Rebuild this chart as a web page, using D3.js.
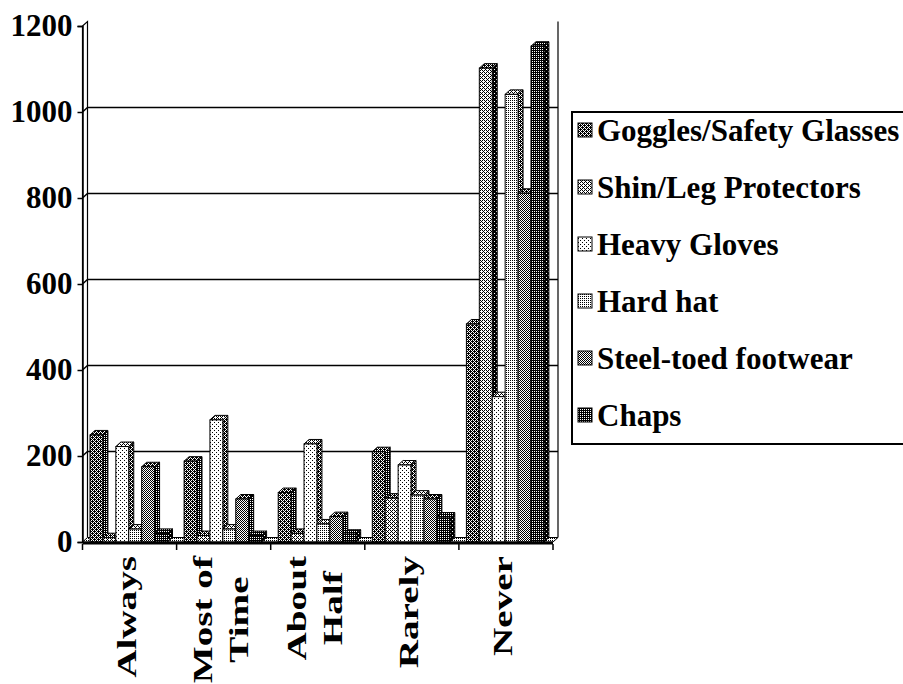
<!DOCTYPE html>
<html>
<head>
<meta charset="utf-8">
<script src="https://cdn.jsdelivr.net/npm/d3@7"></script>
<style>
  body { margin: 0; background: #fff; }
  text { font-family: "Liberation Serif", "Times New Roman", serif; font-weight: bold; fill: #000; }
</style>
</head>
<body>
<svg id="chart" width="903" height="684"></svg>
<script>
// ---- data -------------------------------------------------------------
const categories = ["Always", "Most of Time", "About Half", "Rarely", "Never"];
const categoryLines = [["Always"], ["Most of", "Time"], ["About", "Half"], ["Rarely"], ["Never"]];
const seriesNames = ["Goggles/Safety Glasses", "Shin/Leg Protectors", "Heavy Gloves",
                     "Hard hat", "Steel-toed footwear", "Chaps"];
const goggles     = [249, 188, 115, 210, 507];
const shinLeg     = [10, 15, 20, 102, 1102];
const heavyGloves = [222, 284, 228, 179, 338];
const hardHat     = [30, 30, 42, 109, 1041];
const steelToed   = [175, 100, 59, 100, 811];
const chaps       = [20, 15, 18, 58, 1153];
const yTicks = [0, 200, 400, 600, 800, 1000, 1200];

const seriesValues = [goggles, shinLeg, heavyGloves, hardHat, steelToed, chaps];

// ---- layout -----------------------------------------------------------
const svg = d3.select("#chart");
const DX = 5, DY = 4.5;           // depth offset of the 3-D walls and bars
const x0 = 82.5, x1 = 553;

const y = d3.scaleLinear().domain([0, 1200]).range([542, 26]);
const xCat = d3.scaleBand().domain(categories).range([x0, x1]).padding(0);
const xSer = d3.scaleBand().domain(seriesNames).range([7.5, 85]).padding(0);

// ---- dither fills -----------------------------------------------------
const tiles = {
  p12: ["1000", "0000", "0010", "0000"],
  p25: ["1010", "0000", "1010", "0000"],
  p37: ["1010", "0100", "1010", "0001"],
  p50: ["1010", "0101", "1010", "0101"],
  p62: ["1010", "1101", "1010", "0111"],
  p75: ["1111", "0101", "1111", "0101"],
  p87: ["1111", "1101", "1111", "0111"]
};
const defs = svg.append("defs");
Object.entries(tiles).forEach(([id, rows]) => {
  const p = defs.append("pattern").attr("id", id)
    .attr("patternUnits", "userSpaceOnUse").attr("width", 4).attr("height", 4);
  p.append("rect").attr("width", 4).attr("height", 4).attr("fill", "#fff");
  rows.forEach((r, j) => r.split("").forEach((c, i) => {
    if (c === "1") p.append("rect").attr("x", i).attr("y", j)
      .attr("width", 1).attr("height", 1).attr("fill", "#000");
  }));
});
const faceFill = [
  { front: "p62", top: "p62", side: "p75" },
  { front: "p37", top: "p62", side: "p87" },
  { front: "p12", top: "p37", side: "p62" },
  { front: "p25", top: "p37", side: "p62" },
  { front: "p50", top: "p62", side: "p75" },
  { front: "p75", top: "p75", side: "p87" }
];

// ---- walls and floor --------------------------------------------------
const y0 = y(0), yTop = y(1200);
const walls = svg.append("g").attr("fill", "none").attr("stroke", "#000").attr("stroke-width", 1.2);
// left side wall
walls.append("path")
  .attr("d", `M${x0},${y0}L${x0},${yTop}L${x0 + DX},${yTop - DY}L${x0 + DX},${y0 - DY}`);
// right edge of back wall
walls.append("path")
  .attr("d", `M${x1 + DX},${yTop - DY}L${x1 + DX},${y0 - DY}`);

// gridlines across the side wall and back wall
const grid = svg.append("g").attr("fill", "none").attr("stroke", "#000").attr("stroke-width", 1.5);
yTicks.filter(v => v > 0 && v < 1200).forEach(v => {
  grid.append("path")
    .attr("d", `M${x0},${y(v)}L${x0 + DX},${y(v) - DY}L${x1 + DX},${y(v) - DY}`);
});

// floor
svg.append("path")
  .attr("d", `M${x0},${y0}L${x1},${y0}L${x1 + DX},${y0 - DY}L${x0 + DX},${y0 - DY}Z`)
  .attr("fill", "url(#p25)").attr("stroke", "#000").attr("stroke-width", 1);

// ---- bars -------------------------------------------------------------
const bars = svg.append("g").attr("stroke", "#000").attr("stroke-width", 1);
categories.forEach((cat, ci) => {
  seriesNames.forEach((s, si) => {
    const v = seriesValues[si][ci];
    const bx = xCat(cat) + xSer(s), w = xSer.bandwidth();
    const yt = y(v);
    const g = bars.append("g");
    g.append("path")  // side face
      .attr("d", `M${bx + w},${yt}L${bx + w + DX},${yt - DY}L${bx + w + DX},${y0 - DY}L${bx + w},${y0}Z`)
      .attr("fill", `url(#${faceFill[si].side})`);
    g.append("path")  // top face
      .attr("d", `M${bx},${yt}L${bx + DX},${yt - DY}L${bx + w + DX},${yt - DY}L${bx + w},${yt}Z`)
      .attr("fill", `url(#${faceFill[si].top})`);
    g.append("rect")  // front face
      .attr("x", bx).attr("y", yt).attr("width", w).attr("height", y0 - yt)
      .attr("fill", `url(#${faceFill[si].front})`);
  });
});

// ---- value axis -------------------------------------------------------
const yAxis = d3.axisLeft(y).tickValues(yTicks).tickSize(5).tickPadding(5).tickFormat(d3.format("d"));
const ya = svg.append("g").attr("transform", `translate(${x0},0)`).call(yAxis);
ya.select(".domain").attr("stroke", "#000").attr("stroke-width", 1.5);
ya.selectAll(".tick line").attr("stroke", "#000").attr("stroke-width", 1.5);
ya.selectAll(".tick text")
  .attr("font-size", 31).attr("font-family", "Liberation Serif")
  .attr("font-weight", "bold").attr("fill", "#000");

// ---- category axis ----------------------------------------------------
const xa = svg.append("g");
xa.append("line").attr("x1", x0).attr("x2", x1).attr("y1", y0 + 1).attr("y2", y0 + 1)
  .attr("stroke", "#000").attr("stroke-width", 3);
const bounds = categories.map(c => xCat(c)).concat([x1]);
xa.selectAll("line.tick").data(bounds).join("line").attr("class", "tick")
  .attr("x1", d => d).attr("x2", d => d).attr("y1", y0 + 2).attr("y2", y0 + 8)
  .attr("stroke", "#000").attr("stroke-width", 1.5);

const STRETCH = 1.45;
categoryLines.forEach((lines, ci) => {
  const cx = xCat(categories[ci]) + xCat.bandwidth() / 2;
  const n = lines.length;
  const texts = lines.map(t => xa.append("text").text(t)
    .attr("font-size", 27).attr("text-anchor", "middle"));
  const lmax = d3.max(texts, t => t.node().getComputedTextLength()) * STRETCH;
  const cy = 556 + lmax / 2;
  texts.forEach((t, li) => {
    const bx = cx + 6 + (li - (n - 1) / 2) * 36;
    t.attr("transform", `translate(${bx},${cy}) rotate(-90) scale(${STRETCH},1)`);
  });
});

// ---- legend -----------------------------------------------------------
const lg = svg.append("g");
lg.append("rect").attr("x", 572).attr("y", 112).attr("width", 345).attr("height", 332)
  .attr("fill", "#fff").attr("stroke", "#000").attr("stroke-width", 2);
seriesNames.forEach((name, i) => {
  const cy = 130 + i * 57;
  lg.append("rect").attr("x", 578).attr("y", cy - 7).attr("width", 14).attr("height", 14)
    .attr("fill", `url(#${faceFill[i].front})`).attr("stroke", "#000").attr("stroke-width", 1);
  lg.append("text").attr("x", 597).attr("y", cy).attr("dy", "0.35em")
    .attr("font-size", 31).text(name);
});
</script>
</body>
</html>
